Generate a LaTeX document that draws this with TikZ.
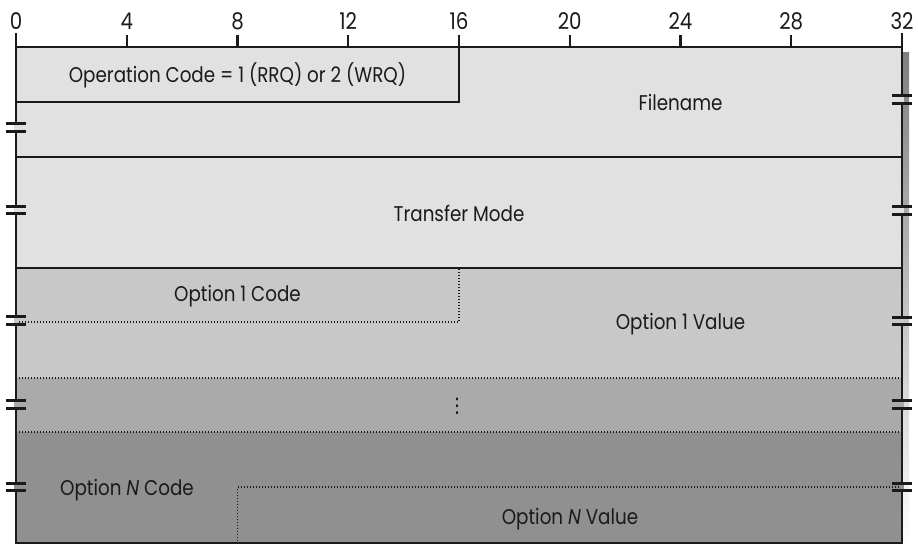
\documentclass[tikz,border=0pt]{standalone}
\usepackage{fontspec}
\setmainfont{Poppins}[FakeStretch=0.86]
\newfontfamily\symfont{DejaVu Sans}
\definecolor{cA}{HTML}{E1E1E1}
\definecolor{cB}{HTML}{C8C8C8}
\definecolor{cC}{HTML}{AAAAAA}
\definecolor{cD}{HTML}{909090}
\definecolor{shade}{HTML}{E2E2E2}
\definecolor{ink}{HTML}{1A1A1A}
\begin{document}
\begin{tikzpicture}[x=1pt,y=-1pt,
  lbl/.style={font=\fontsize{21.3}{25}\selectfont, text=ink, inner sep=0pt},
  num/.style={font=\fontsize{23}{27}\selectfont, text=ink, inner sep=0pt},
  frame/.style={line width=2.6pt, draw=ink},
  tick/.style={line width=2.2pt, draw=ink},
  sep/.style={line width=1.1pt, draw=ink},
  dotsep/.style={line width=1.1pt, draw=ink, dash pattern=on 1.1pt off 1.9pt},
  brkline/.style={line width=2.8pt, draw=ink}]
\useasboundingbox (0,0) rectangle (918,547);
% fills
\fill[shade] (902,52) rectangle (909,547);
\fill[cA] (16,47) rectangle (902,268);
\fill[cB] (16,268) rectangle (902,378);
\fill[cC] (16,378) rectangle (902,432);
\fill[cD] (16,432) rectangle (902,543);
% inner separators
\draw[sep] (16,102) -| (459,47);
\draw[sep] (16,157) -- (902,157);
\draw[sep] (16,268) -- (902,268);
\draw[dotsep] (16,322) -| (459,268);
\draw[dotsep] (16,378) -- (902,378);
\draw[dotsep] (16,432) -- (902,432);
\draw[dotsep] (902,487) -| (237.5,543);
% frame
\draw[frame] (16,33) -- (16,543) -- (902,543) -- (902,33);
\draw[frame] (16,47) -- (902,47);
\foreach \b in {4,8,...,28}{
  \draw[tick] ({16+27.6875*\b},35) -- ({16+27.6875*\b},47);
}
\foreach \b in {0,4,8,...,32}{
  \node[num] (n\b) at ({16+27.6875*\b},21) {\b};
}
% break marks
\foreach \x/\y/\c in {16/127.5/cA, 16/210/cA, 16/320.5/cB, 16/404.5/cC, 16/487/cD,
                      902/99.5/cA, 902/210.5/cA, 902/321/cB, 902/404.5/cC, 902/487/cD}{
  \fill[\c] (\x-2,\y-3) rectangle (\x+2,\y+3);
  \draw[brkline] (\x-10,\y-3.7) -- (\x+10,\y-3.7);
  \draw[brkline] (\x-10,\y+3.7) -- (\x+10,\y+3.7);
}
% labels
\node[lbl] (opcode) at (237.5,75) {Operation Code = 1 (RRQ) or 2 (WRQ)};
\node[lbl] (fname) at (680.5,102) {Filename};
\node[lbl] (tmode) at (459,213) {Transfer Mode};
\node[lbl] (o1code) at (237.5,296) {Option 1 Code};
\node[lbl] (o1val) at (680.5,324) {Option 1 Value};
\node[font=\symfont\fontsize{20}{24}\selectfont, text=ink, inner sep=0pt] (vdots) at (457,406) {⋮};
\node[lbl] (oncode) at (127,490) {Option \textit{N} Code};
\node[lbl] (onval) at (570,519) {Option \textit{N} Value};
\end{tikzpicture}
\end{document}
